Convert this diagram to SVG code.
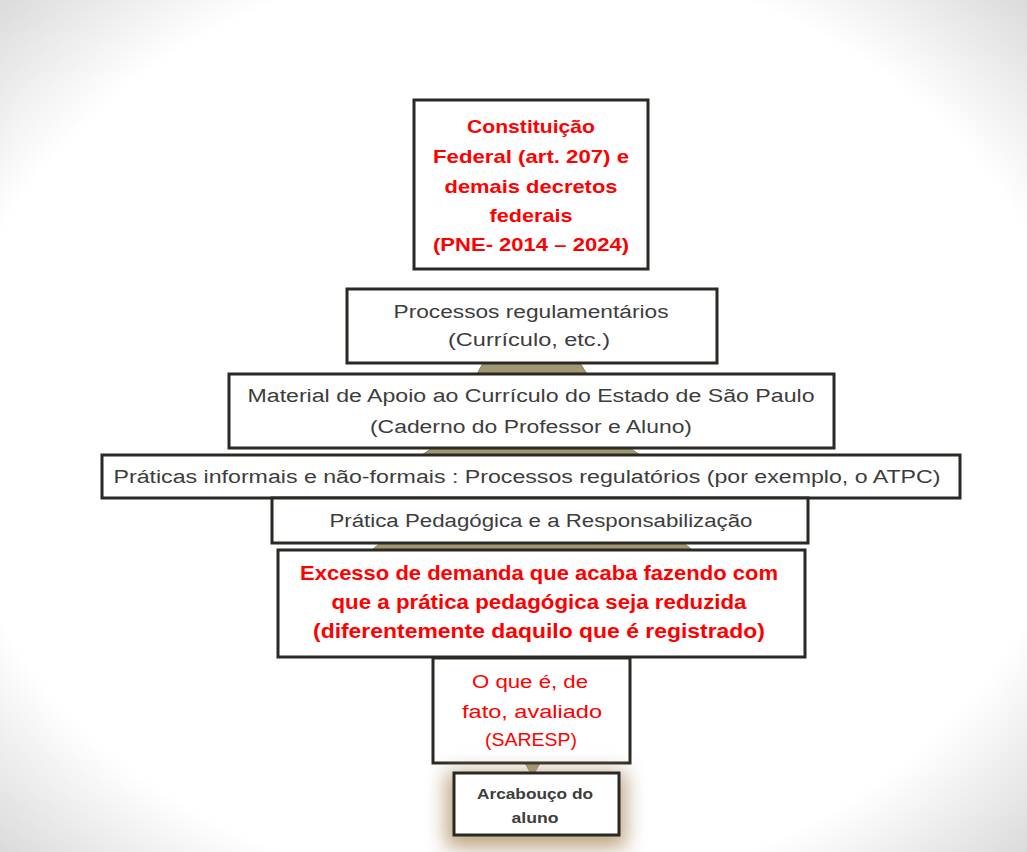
<svg xmlns="http://www.w3.org/2000/svg" width="1027" height="852" viewBox="0 0 1027 852">
<defs>
<radialGradient id="bg" cx="50%" cy="50%" r="72%">
<stop offset="0" stop-color="#ffffff"/>
<stop offset="0.76" stop-color="#ffffff"/>
<stop offset="1" stop-color="#d8d8d8"/>
</radialGradient>
<filter id="glow" x="-40%" y="-60%" width="180%" height="220%">
<feGaussianBlur stdDeviation="10"/>
</filter>
</defs>
<style>
.box{fill:#ffffff;stroke:#2a2924;stroke-width:3}
.t{font-family:"Liberation Sans",Arial,sans-serif;text-anchor:middle;fill:#3d3d3d}
.r{fill:#ff0000}
.b{font-weight:bold}
.conn{fill:#9f9872;stroke:#8a8460;stroke-width:1}
</style>
<rect x="0" y="0" width="1027" height="852" fill="url(#bg)"/>

<g id="connectors">
<polygon class="conn" points="483,363 580,363 587,374 477,374"/>
<polygon class="conn" points="432,448 630,448 640,455 422,455"/>
<polygon class="conn" points="380,543 684,543 692,550 372,550"/>
<polygon class="conn" points="525,763 540,763 535,772 530,772"/>
</g>

<g id="n1">
<rect class="box" x="414" y="100" width="234" height="169"/>
<text class="t r b" font-size="19"><tspan x="531" y="133" textLength="128" lengthAdjust="spacingAndGlyphs">Constituição</tspan><tspan x="531" y="163" textLength="196" lengthAdjust="spacingAndGlyphs">Federal (art. 207) e</tspan><tspan x="531" y="193" textLength="173" lengthAdjust="spacingAndGlyphs">demais decretos</tspan><tspan x="531" y="222" textLength="83" lengthAdjust="spacingAndGlyphs">federais</tspan><tspan x="531" y="251" textLength="196" lengthAdjust="spacingAndGlyphs">(PNE- 2014 – 2024)</tspan></text>
</g>

<g id="n2">
<rect class="box" x="347" y="289" width="370" height="74"/>
<text class="t" font-size="18"><tspan x="531" y="318" textLength="275" lengthAdjust="spacingAndGlyphs">Processos regulamentários</tspan><tspan x="529" y="346" textLength="162" lengthAdjust="spacingAndGlyphs">(Currículo, etc.)</tspan></text>
</g>

<g id="n3">
<rect class="box" x="229" y="374" width="605" height="74"/>
<text class="t" font-size="18"><tspan x="531" y="402" textLength="567" lengthAdjust="spacingAndGlyphs">Material de Apoio ao Currículo do Estado de São Paulo</tspan><tspan x="531" y="433" textLength="322" lengthAdjust="spacingAndGlyphs">(Caderno do Professor e Aluno)</tspan></text>
</g>

<g id="n4">
<rect class="box" x="102" y="455" width="858" height="43"/>
<text class="t" font-size="18"><tspan x="527" y="483" textLength="827" lengthAdjust="spacingAndGlyphs">Práticas informais e não-formais : Processos regulatórios (por exemplo, o ATPC)</tspan></text>
</g>

<g id="n5">
<rect class="box" x="272" y="498" width="536" height="45"/>
<text class="t" font-size="18"><tspan x="541" y="527" textLength="423" lengthAdjust="spacingAndGlyphs">Prática Pedagógica e a Responsabilização</tspan></text>
</g>

<g id="n6">
<rect class="box" x="278" y="550" width="527" height="107"/>
<text class="t r b" font-size="20"><tspan x="539" y="580" textLength="478" lengthAdjust="spacingAndGlyphs">Excesso de demanda que acaba fazendo com</tspan><tspan x="539" y="609" textLength="415" lengthAdjust="spacingAndGlyphs">que a prática pedagógica seja reduzida</tspan><tspan x="539" y="638" textLength="452" lengthAdjust="spacingAndGlyphs">(diferentemente daquilo que é registrado)</tspan></text>
</g>

<g id="n7">
<rect class="box" x="433" y="658" width="197" height="105"/>
<text class="t r" font-size="18"><tspan x="530" y="688" textLength="116" lengthAdjust="spacingAndGlyphs">O que é, de</tspan><tspan x="532" y="718" textLength="140" lengthAdjust="spacingAndGlyphs">fato, avaliado</tspan><tspan x="531" y="746" textLength="92" lengthAdjust="spacingAndGlyphs">(SARESP)</tspan></text>
</g>

<g id="n8">
<rect x="446" y="772" width="180" height="76" fill="#b39670" opacity="0.85" filter="url(#glow)"/>
<rect class="box" x="454" y="773" width="165" height="62"/>
<text class="t b" font-size="14" fill="#333333"><tspan x="535" y="799" textLength="116" lengthAdjust="spacingAndGlyphs">Arcabouço do</tspan><tspan x="535" y="823" textLength="47" lengthAdjust="spacingAndGlyphs">aluno</tspan></text>
</g>
</svg>
